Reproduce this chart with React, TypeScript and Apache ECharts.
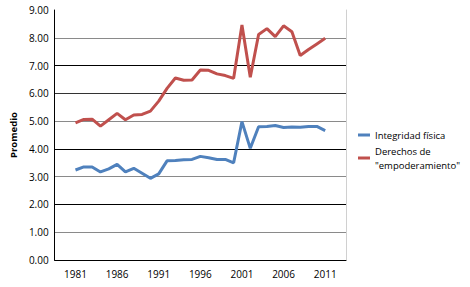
import React, { useEffect, useRef } from "react";
import * as echarts from "echarts";

const allYears: string[] = [];
for (let y = 1979; y <= 2013; y++) allYears.push(String(y));

const dataYears: number[] = [
  1981, 1982, 1983, 1984, 1985, 1986, 1987, 1988, 1989, 1990,
  1991, 1992, 1993, 1994, 1995, 1996, 1997, 1998, 1999, 2000,
  2001, 2002, 2003, 2004, 2005, 2006, 2007, 2008, 2009, 2010, 2011,
];

const integridad: number[] = [
  3.24, 3.35, 3.35, 3.17, 3.28, 3.44, 3.17, 3.3, 3.12, 2.94,
  3.1, 3.57, 3.58, 3.61, 3.62, 3.73, 3.68, 3.62, 3.62, 3.5,
  4.98, 4.02, 4.8, 4.81, 4.84, 4.77, 4.79, 4.78, 4.81, 4.81, 4.66,
];

const derechos: number[] = [
  4.94, 5.06, 5.07, 4.82, 5.05, 5.28, 5.05, 5.22, 5.24, 5.36,
  5.72, 6.18, 6.55, 6.47, 6.48, 6.84, 6.83, 6.7, 6.64, 6.54,
  8.46, 6.58, 8.12, 8.33, 8.04, 8.43, 8.22, 7.36, 7.58, 7.78, 7.98,
];

const labelYears: number[] = [1981, 1986, 1991, 1996, 2001, 2006, 2011];

const nameA = "Integridad física";
const nameB = 'Derechos de\n"empoderamiento"';

function pad(vals: number[]): (number | null)[] {
  return allYears.map((y) => {
    const i = dataYears.indexOf(Number(y));
    return i >= 0 ? vals[i] : null;
  });
}

const FONT = "'Open Sans', 'Liberation Sans', sans-serif";

export default function App() {
  const ref = useRef<HTMLDivElement>(null);
  useEffect(() => {
    if (!ref.current) return;
    const chart = echarts.init(ref.current, undefined, { renderer: "svg" });
    chart.setOption({
      animation: false,
      backgroundColor: "#ffffff",
      grid: { left: 50, right: 124, top: 10, bottom: 27, containLabel: false },
      legend: {
        orient: "vertical",
        left: 353,
        top: 123,
        itemGap: 2,
        itemWidth: 12,
        itemHeight: 3,
        icon: "rect",
        textStyle: { fontFamily: FONT, fontSize: 9.5, color: "#000", lineHeight: 14 },
        data: [nameA, nameB],
      },
      xAxis: {
        type: "category",
        data: allYears,
        boundaryGap: true,
        axisLine: { lineStyle: { color: "#000", width: 1 } },
        axisTick: { show: false },
        axisLabel: {
          interval: (_i: number, v: string) => labelYears.indexOf(Number(v)) >= 0,
          margin: 9,
          fontFamily: FONT,
          fontSize: 10,
          color: "#000",
        },
        splitLine: { show: false },
      },
      yAxis: [
        {
          type: "value",
          min: 0,
          max: 9,
          interval: 1,
          name: "Promedio",
          nameLocation: "middle",
          nameGap: 36,
          nameRotate: 90,
          nameTextStyle: { fontFamily: FONT, fontSize: 9.5, fontWeight: "bold", color: "#000" },
          axisLine: { show: true, lineStyle: { color: "#000", width: 1 } },
          axisTick: { show: false },
          axisLabel: {
            formatter: (v: number) => v.toFixed(2),
            fontFamily: FONT,
            fontSize: 10,
            color: "#000",
            margin: 6,
          },
          splitLine: {
            show: true,
            showMaxLine: false,
            lineStyle: {
              color: ["#000", "#8a8a8a", "#000", "#8a8a8a", "#000", "#8a8a8a", "#333", "#000", "#8a8a8a", "transparent"],
              width: 1,
            },
          },
        },
        {
          type: "value",
          min: 0,
          max: 9,
          interval: 1,
          position: "right",
          axisLine: { show: true, lineStyle: { color: "#d0d0d0", width: 1 } },
          axisTick: { show: false },
          axisLabel: { show: false },
          splitLine: { show: false },
        },
      ],
      series: [
        {
          name: nameA,
          type: "line",
          data: pad(integridad),
          symbol: "none",
          lineStyle: { color: "#4f81bd", width: 3 },
          itemStyle: { color: "#4f81bd" },
        },
        {
          name: nameB,
          type: "line",
          data: pad(derechos),
          symbol: "none",
          lineStyle: { color: "#c0504d", width: 3 },
          itemStyle: { color: "#c0504d" },
        },
      ],
    });
    return () => chart.dispose();
  }, []);
  return (
    <div
      ref={ref}
      style={{ position: "fixed", left: 0, top: 0, width: 470, height: 287 }}
    />
  );
}
